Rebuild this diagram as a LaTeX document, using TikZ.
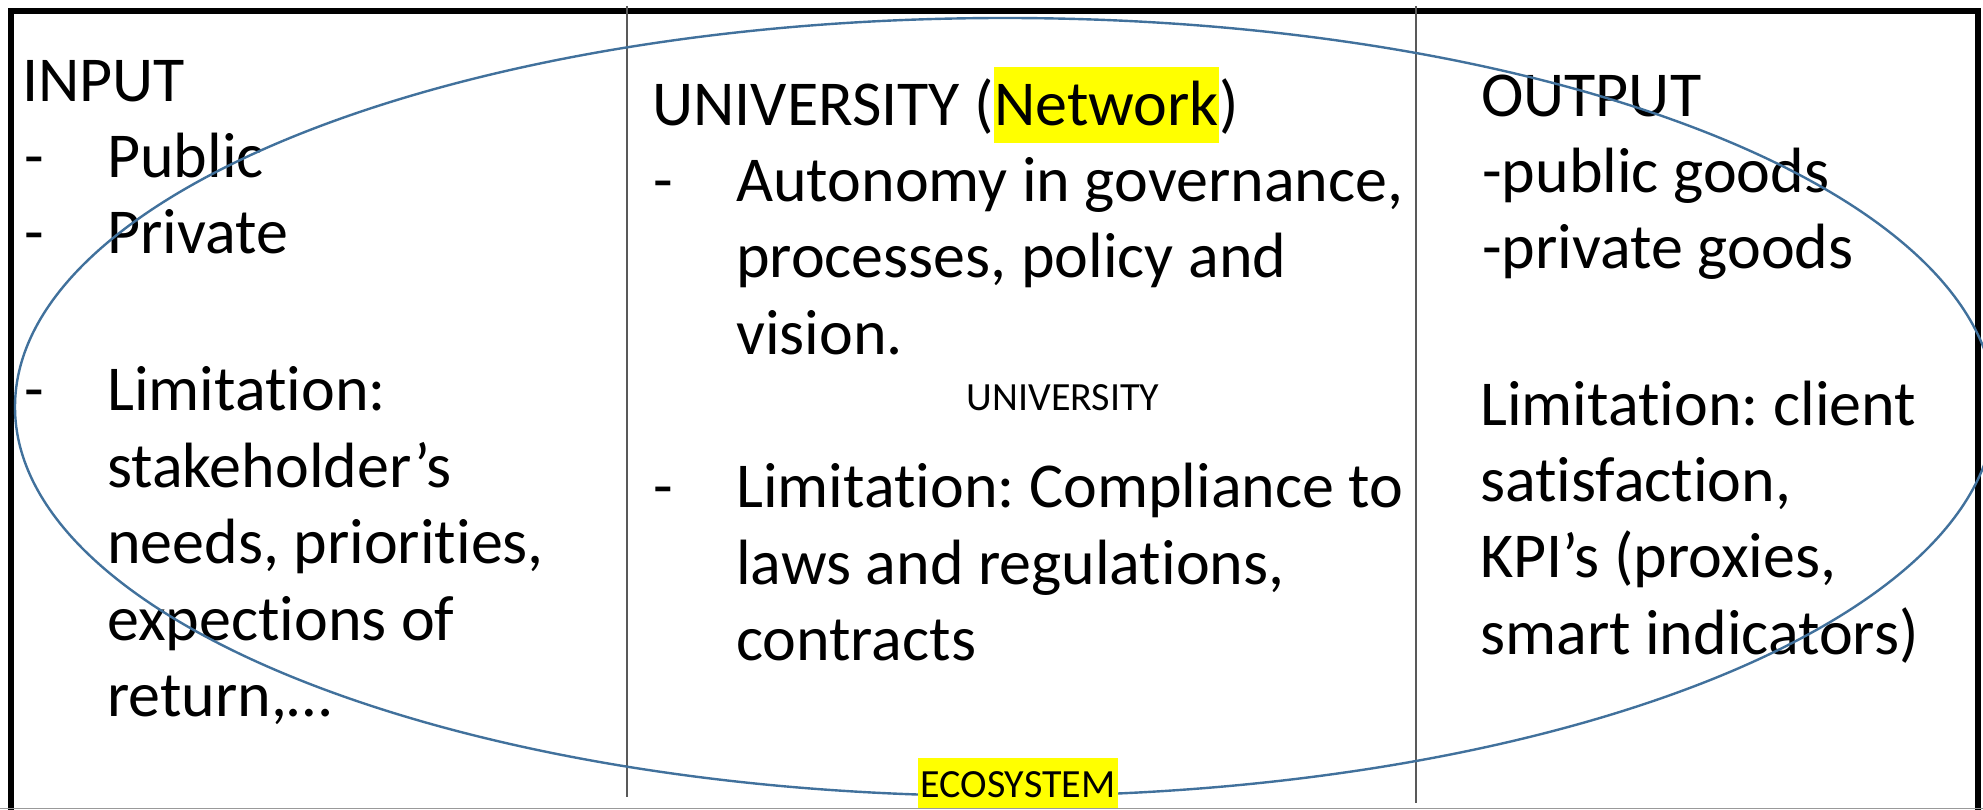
\documentclass[tikz,border=0pt]{standalone}
\usepackage{fontspec}
\setmainfont{Carlito}[RawFeature={-liga,-clig,-dlig,-calt}]
\frenchspacing
\definecolor{ellblue}{HTML}{41719C}
\definecolor{hlyellow}{HTML}{FFFF00}
\definecolor{divgray}{HTML}{595959}
\begin{document}
\begin{tikzpicture}[x=1pt,y=-1pt,
  txt/.style={anchor=base west, inner sep=0pt, font=\fontsize{64}{76}\selectfont},
  smalltxt/.style={inner sep=0pt, font=\fontsize{40}{48}\selectfont},
  frameline/.style={line width=6pt, black},
  divider/.style={line width=1.6pt, divgray},
  bottomline/.style={line width=1.5pt, black!40},
  eco/.style={line width=2.4pt, ellblue}]
\useasboundingbox (0,0) rectangle (1983,810);
\fill[white] (0,0) rectangle (1983,810);
% frame
\draw[frameline] (10.5,815) -- (10.5,11) -- (1977.5,11) -- (1977.5,815);
\draw[bottomline] (0,808.5) -- (1983,808.5);
% dividers
\coordinate (d1t) at (627,6);
\coordinate (d1b) at (627,797);
\coordinate (d2t) at (1416,6);
\coordinate (d2b) at (1416,803);
\draw[divider] (d1t) -- (d1b);
\draw[divider] (d2t) -- (d2b);
% left column
\node[txt] (input) at (22,102) {INPUT};
\node[txt] (ld1) at (24,178) {-};
\node[txt] (lpub) at (107,178) {Public};
\node[txt] (ld2) at (24,254) {-};
\node[txt] (lpriv) at (107,254) {Private};
\node[txt] (ld3) at (24,410) {-};
\node[txt] (llim) at (107,410) {Limitation:};
\node[txt] (l2) at (107,487) {stakeholder’s};
\node[txt] (l3) at (107,563) {needs, priorities,};
\node[txt] (l4) at (107,640) {expections of};
\node[txt] (l5) at (107,716) {return,…};
% middle column
\node[txt] (uni) at (652,126) {UNIVERSITY (};
\node[txt, fill=hlyellow, text height=59pt, text depth=17pt] (net) at (uni.base east) {Network};
\node[txt] (unicl) at (net.base east) {)};
\node[txt] (md1) at (653,202) {-};
\node[txt] (m1) at (736,202) {Autonomy in governance,};
\node[txt] (m2) at (736,278) {processes, policy and};
\node[txt] (m3) at (736,354) {vision.};
\node[smalltxt, anchor=base] (unis) at (1063,410) {UNIVERSITY};
\node[txt] (md2) at (653,507) {-};
\node[txt] (m4) at (736,507) {Limitation: Compliance to};
\node[txt] (m5) at (736,584) {laws and regulations,};
\node[txt] (m6) at (736,660) {contracts};
% right column
\node[txt] (output) at (1481,117) {OUTPUT};
\node[txt] (r1) at (1482,193) {-public goods};
\node[txt] (r2) at (1482,269) {-private goods};
\node[txt] (r3) at (1480,425) {Limitation: client};
\node[txt] (r4) at (1480,501) {satisfaction,};
\node[txt] (r5) at (1480,577) {KPI’s (proxies,};
\node[txt] (r6) at (1480,654) {smart indicators)};
% ecosystem ellipse
\draw[eco] (1005,407) ellipse [x radius=990, y radius=389];
\node[smalltxt, anchor=base, fill=hlyellow, text height=39pt, text depth=11pt, inner xsep=2.5pt] (ecosys) at (1018,797) {ECOSYSTEM};
\end{tikzpicture}
\end{document}
